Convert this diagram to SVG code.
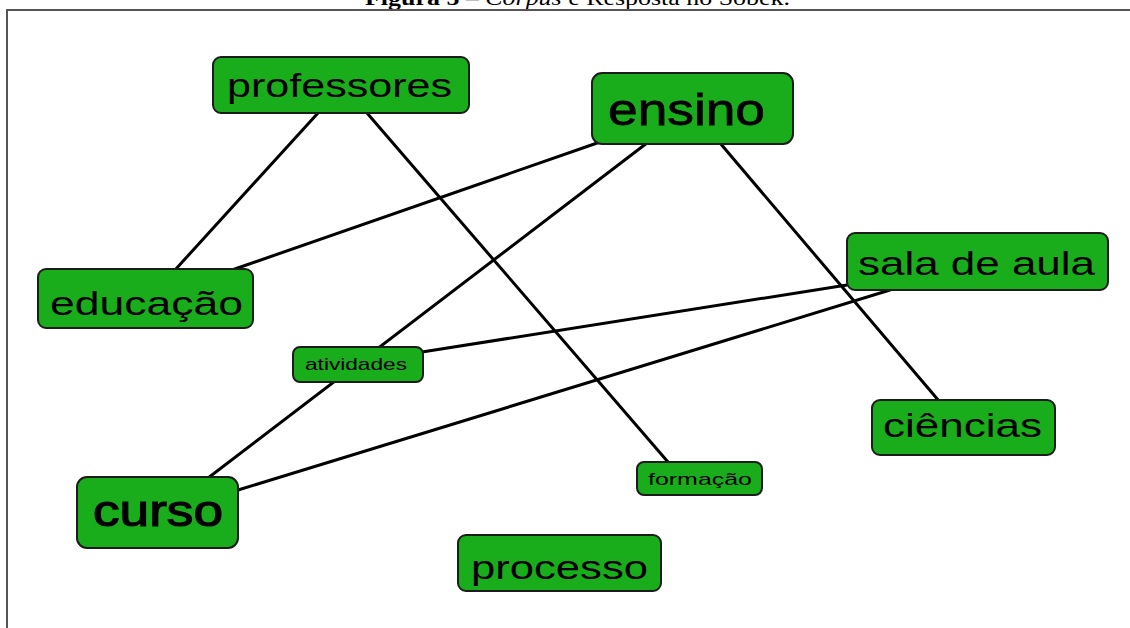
<svg xmlns="http://www.w3.org/2000/svg" width="1130" height="628" viewBox="0 0 1130 628">
<style>
.node rect{fill:#19ad1b;stroke:#1c1c1c;stroke-width:2}
.node text{font-family:"Liberation Sans",Arial,sans-serif;fill:#000;lengthAdjust:spacingAndGlyphs}
.big{font-size:33px}
.huge{font-size:44px}
.small{font-size:17px}
.edges line{stroke:#000;stroke-width:3;stroke-linecap:round}
.cap{font-family:"Liberation Serif","Times New Roman",serif;font-size:22px;fill:#000}
</style>
<rect width="1130" height="628" fill="#fff"/>
<text class="cap" x="365" y="5" textLength="425" lengthAdjust="spacingAndGlyphs"><tspan font-weight="bold">Figura 5 – </tspan><tspan font-style="italic">Corpus</tspan> e Resposta no Sobek.</text>
<rect x="7" y="10" width="1130" height="630" fill="none" stroke="#555" stroke-width="2"/>
<g class="edges">
<line x1="318" y1="113" x2="175" y2="270"/>
<line x1="367" y1="113" x2="668" y2="462"/>
<line x1="600" y1="142" x2="232" y2="270"/>
<line x1="647" y1="143" x2="208" y2="478"/>
<line x1="720" y1="143" x2="939" y2="401"/>
<line x1="847" y1="285" x2="422" y2="352"/>
<line x1="890" y1="290" x2="238" y2="490"/>
</g>
<g id="professores" class="node"><rect x="213" y="57" width="256" height="56" rx="8"/><text class="big" x="227" y="97" textLength="225" lengthAdjust="spacingAndGlyphs">professores</text></g>
<g id="ensino" class="node"><rect x="592" y="73" width="201" height="71" rx="10"/><text class="huge" x="608" y="125" textLength="157" lengthAdjust="spacingAndGlyphs" stroke="#000" stroke-width="0.8">ensino</text></g>
<g id="educacao" class="node"><rect x="38" y="269" width="215" height="59" rx="8"/><text class="big" x="50" y="315" textLength="193" lengthAdjust="spacingAndGlyphs">educação</text></g>
<g id="sala" class="node"><rect x="847" y="233" width="261" height="57" rx="8"/><text class="big" x="858" y="275" textLength="237" lengthAdjust="spacingAndGlyphs">sala de aula</text></g>
<g id="atividades" class="node"><rect x="293" y="347" width="130" height="35" rx="7"/><text class="small" x="305" y="370" textLength="102" lengthAdjust="spacingAndGlyphs">atividades</text></g>
<g id="ciencias" class="node"><rect x="872" y="400" width="183" height="55" rx="8"/><text class="big" x="883" y="437" textLength="159" lengthAdjust="spacingAndGlyphs">ciências</text></g>
<g id="formacao" class="node"><rect x="637" y="462" width="125" height="33" rx="7"/><text class="small" x="648" y="485" textLength="104" lengthAdjust="spacingAndGlyphs">formação</text></g>
<g id="curso" class="node"><rect x="77" y="477" width="161" height="71" rx="10"/><text class="huge" x="93" y="526" textLength="130" lengthAdjust="spacingAndGlyphs" stroke="#000" stroke-width="1.2">curso</text></g>
<g id="processo" class="node"><rect x="458" y="535" width="203" height="56" rx="8"/><text class="big" x="471" y="579" textLength="177" lengthAdjust="spacingAndGlyphs">processo</text></g>
</svg>
